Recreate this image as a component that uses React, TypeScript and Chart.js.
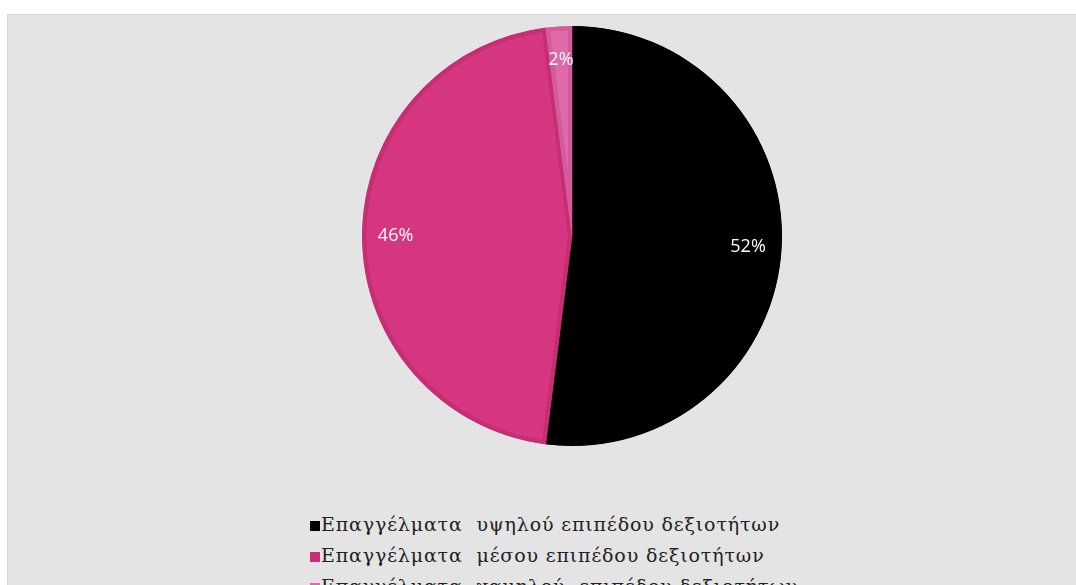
import React, { useEffect, useRef } from "react";
import { Chart, registerables } from "chart.js";

Chart.register(...registerables);

const categories = [
  "Επαγγέλματα  υψηλού επιπέδου δεξιοτήτων",
  "Επαγγέλματα  μέσου επιπέδου δεξιοτήτων",
  "Επαγγέλματα  χαμηλού  επιπέδου δεξιοτήτων",
];
const shares = [52, 46, 2];
const valueLabels = ["52%", "46%", "2%"];
const fillColors = ["#000000", "#d6367f", "#e06aa8"];
const edgeColors = ["#000000", "#c62e74", "#d45b9b"];
const legendColors = ["#000000", "#c92f73", "#e06aa8"];

const labelPlugin = {
  id: "sliceLabels",
  afterDatasetsDraw(chart: any) {
    const ctx = chart.ctx;
    const meta = chart.getDatasetMeta(0);
    ctx.save();
    ctx.fillStyle = "#ffffff";
    ctx.font = '18px "Open Sans", "Noto Sans", sans-serif';
    ctx.textAlign = "center";
    ctx.textBaseline = "middle";
    meta.data.forEach((arc: any, i: number) => {
      const p = arc.getProps(["x", "y", "startAngle", "endAngle", "outerRadius"], true);
      const mid = (p.startAngle + p.endAngle) / 2;
      const r = p.outerRadius * 0.84;
      ctx.fillText(valueLabels[i], p.x + Math.cos(mid) * r, p.y + Math.sin(mid) * r);
    });
    ctx.restore();
  },
};

export default function App() {
  const ref = useRef<HTMLCanvasElement | null>(null);
  useEffect(() => {
    if (!ref.current) return;
    const chart = new Chart(ref.current, {
      type: "pie",
      data: {
        labels: categories,
        datasets: [
          {
            data: shares,
            backgroundColor: fillColors,
            borderColor: edgeColors,
            borderWidth: 4,
            borderAlign: "inner",
          } as any,
        ],
      },
      options: {
        responsive: false,
        animation: false,
        layout: { padding: { top: 11, bottom: 11, left: 59, right: 0 } },
        plugins: {
          legend: { display: false },
          tooltip: { enabled: false },
        },
      },
      plugins: [labelPlugin],
    });
    return () => chart.destroy();
  }, []);

  return (
    <div
      style={{
        position: "fixed",
        left: 7,
        top: 14,
        width: 1069,
        height: 571,
        background: "#e4e4e4",
        borderTop: "1px solid #d9d9d9",
        borderLeft: "1px solid #d9d9d9",
        overflow: "hidden",
      }}
    >
      <canvas ref={ref} width={1069} height={442} style={{ display: "block" }} />
      {categories.map((c, i) => (
        <div
          key={c}
          style={{
            position: "absolute",
            left: 302,
            top: 497 + i * 31,
            height: 24,
            lineHeight: "24px",
            whiteSpace: "pre",
            fontFamily: "'DejaVu Serif', serif",
            fontSize: "19px",
            letterSpacing: "0.85px",
            color: "#222",
          }}
        >
          <span
            style={{
              display: "inline-block",
              width: 10,
              height: 10,
              background: legendColors[i],
              marginRight: 1,
              verticalAlign: "middle",
            }}
          />
          {c}
        </div>
      ))}
    </div>
  );
}
